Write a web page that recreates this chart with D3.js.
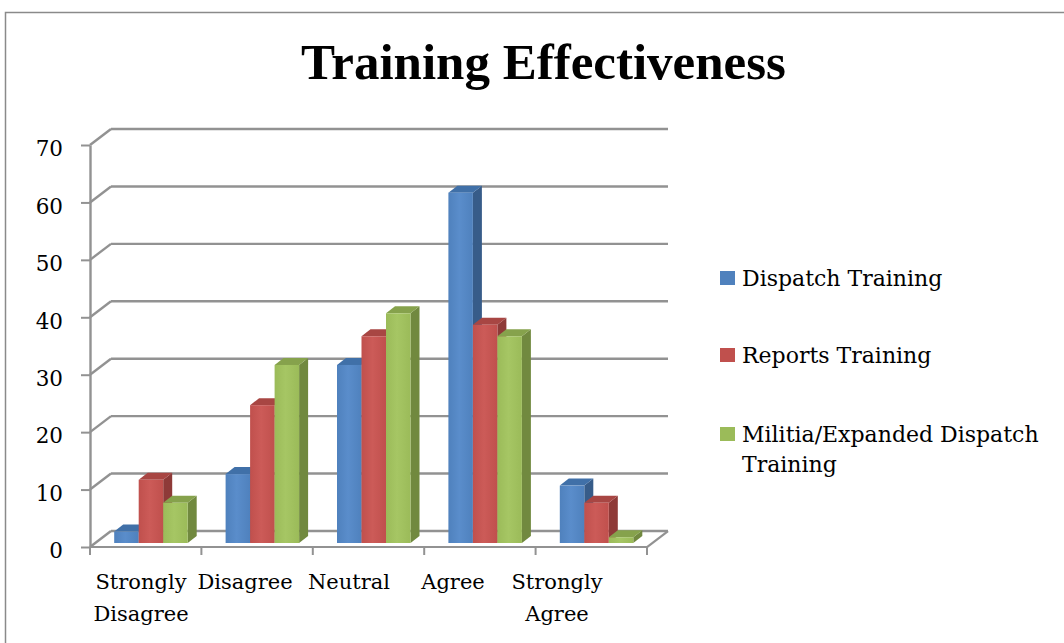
<!DOCTYPE html>
<html>
<head>
<meta charset="utf-8">
<script src="https://cdn.jsdelivr.net/npm/d3@7"></script>
<style>
  html, body { margin: 0; padding: 0; background: #fff; }
  svg { display: block; }
</style>
</head>
<body>
<div id="chart"></div>
<script>
// ---- Data ----
const categories = ["Strongly Disagree", "Disagree", "Neutral", "Agree", "Strongly Agree"];
const categoryLines = [["Strongly", "Disagree"], ["Disagree"], ["Neutral"], ["Agree"], ["Strongly", "Agree"]];
const seriesNames = ["Dispatch Training", "Reports Training", "Militia/Expanded Dispatch Training"];
const legendLines = [["Dispatch Training"], ["Reports Training"], ["Militia/Expanded Dispatch", "Training"]];
const dispatchValues = [2, 12, 31, 61, 10];
const reportsValues  = [11, 24, 36, 38, 7];
const militiaValues  = [7, 31, 40, 36, 1];
const yTicks = [0, 10, 20, 30, 40, 50, 60, 70];
const title = "Training Effectiveness";

const seriesValues = [dispatchValues, reportsValues, militiaValues];
const frontColors = ["#4F81BD", "#C0504D", "#9BBB59"];
const lightColors = ["#5A8DCB", "#CC5B58", "#A6C664"];
const sideColors  = ["#375C89", "#8E3A38", "#71893F"];
const topColors   = ["#4070A8", "#A84643", "#86A24C"];

const W = 1064, H = 643;
const svg = d3.select("#chart").append("svg").attr("width", W).attr("height", H);
svg.append("rect").attr("width", W).attr("height", H).attr("fill", "#fff");

// frame
svg.append("path").attr("d", "M5.5,643 V12.5 H1064").attr("fill", "none")
  .attr("stroke", "#8a8a8a").attr("stroke-width", 1.5);

// scales
const y = d3.scaleLinear().domain([0, 70]).range([547, 145]);
const x = d3.scaleBand().domain(categories).range([90, 647]);
const inner = d3.scaleBand().domain(seriesNames).range([-36.75, 36.75]);
const labelX = d3.scaleBand().domain(categories).range([89, 609]);

// 3D depth of wall/floor and bars
const DX = 21, DY = -16;
const fDX = 5.25, fDY = -4;    // bar front plane offset
const bDX = 9, bDY = -7;       // bar depth

const gridColor = "#929292";
const grid = svg.append("g");
yTicks.forEach(v => {
  const yy = y(v);
  grid.append("line").attr("x1", 90).attr("y1", yy).attr("x2", 90 + DX).attr("y2", yy + DY)
    .attr("stroke", gridColor).attr("stroke-width", 2.4);
  grid.append("line").attr("x1", 90 + DX).attr("y1", yy + DY).attr("x2", x.range()[1] + DX).attr("y2", yy + DY)
    .attr("stroke", gridColor).attr("stroke-width", 2.4);
});
// floor front edge and right edge
grid.append("line").attr("x1", 90).attr("y1", y(0)).attr("x2", x.range()[1]).attr("y2", y(0))
  .attr("stroke", gridColor).attr("stroke-width", 2.2);
grid.append("line").attr("x1", x.range()[1]).attr("y1", y(0)).attr("x2", x.range()[1] + DX).attr("y2", y(0) + DY)
  .attr("stroke", gridColor).attr("stroke-width", 2.2);

// category ticks
const catBounds = categories.map(c => x(c)).concat([x.range()[1]]);
catBounds.forEach(bx => {
  grid.append("line").attr("x1", bx).attr("y1", y(0)).attr("x2", bx).attr("y2", y(0) + 8)
    .attr("stroke", gridColor).attr("stroke-width", 2);
});

// y axis
const yAxis = svg.append("g").attr("transform", "translate(90,0)")
  .call(d3.axisLeft(y).tickValues(yTicks).tickSize(9).tickSizeOuter(0).tickPadding(18));
yAxis.select(".domain").attr("stroke", gridColor).attr("stroke-width", 2.4);
yAxis.selectAll(".tick line").attr("stroke", gridColor).attr("stroke-width", 2);
yAxis.selectAll(".tick text").attr("font-family", "DejaVu Serif").attr("font-size", 21.5)
  .attr("fill", "#000").attr("dy", "0.5em");

// gradients for front faces
const defs = svg.append("defs");
frontColors.forEach((c, i) => {
  const g = defs.append("linearGradient").attr("id", "grad" + i).attr("x1", "0%").attr("x2", "100%");
  g.append("stop").attr("offset", "0%").attr("stop-color", c);
  g.append("stop").attr("offset", "45%").attr("stop-color", lightColors[i]);
  g.append("stop").attr("offset", "100%").attr("stop-color", c);
});

// bars
const bars = svg.append("g");
categories.forEach((cat, ci) => {
  seriesNames.forEach((s, si) => {
    const v = seriesValues[si][ci];
    const x0 = x(cat) + x.bandwidth() / 2 + inner(s) + fDX;
    const w = inner.bandwidth();
    const yt = y(v) + fDY;
    const yb = y(0) + fDY;
    const g = bars.append("g");
    // side
    g.append("polygon").attr("points", [
      [x0 + w, yt], [x0 + w + bDX, yt + bDY], [x0 + w + bDX, yb + bDY], [x0 + w, yb]
    ].map(p => p.join(",")).join(" ")).attr("fill", sideColors[si]);
    // top
    g.append("polygon").attr("points", [
      [x0, yt], [x0 + w, yt], [x0 + w + bDX, yt + bDY], [x0 + bDX, yt + bDY]
    ].map(p => p.join(",")).join(" ")).attr("fill", topColors[si]);
    // front
    g.append("rect").attr("x", x0).attr("y", yt).attr("width", w).attr("height", yb - yt)
      .attr("fill", "url(#grad" + si + ")");
  });
});

// category labels
const catG = svg.append("g").attr("font-family", "DejaVu Serif").attr("font-size", 21).attr("fill", "#000");
categories.forEach((cat, ci) => {
  const cx = labelX(cat) + labelX.bandwidth() / 2;
  const t = catG.append("text").attr("text-anchor", "middle");
  categoryLines[ci].forEach((ln, li) => {
    t.append("tspan").attr("x", cx).attr("y", 589 + li * 32).text(ln);
  });
});

// title
svg.append("text").attr("x", 543.5).attr("y", 79).attr("text-anchor", "middle")
  .attr("font-family", "Liberation Serif").attr("font-weight", "bold").attr("font-size", 51)
  .attr("fill", "#000").text(title);

// legend
const legY = [286, 363, 442];
const leg = svg.append("g").attr("font-family", "DejaVu Serif").attr("font-size", 22).attr("fill", "#000");
seriesNames.forEach((s, i) => {
  leg.append("rect").attr("x", 720).attr("y", legY[i] - 15).attr("width", 15).attr("height", 14)
    .attr("fill", frontColors[i]);
  const t = leg.append("text");
  legendLines[i].forEach((ln, li) => {
    t.append("tspan").attr("x", 742).attr("y", legY[i] + li * 30).text(ln);
  });
});
</script>
</body>
</html>
